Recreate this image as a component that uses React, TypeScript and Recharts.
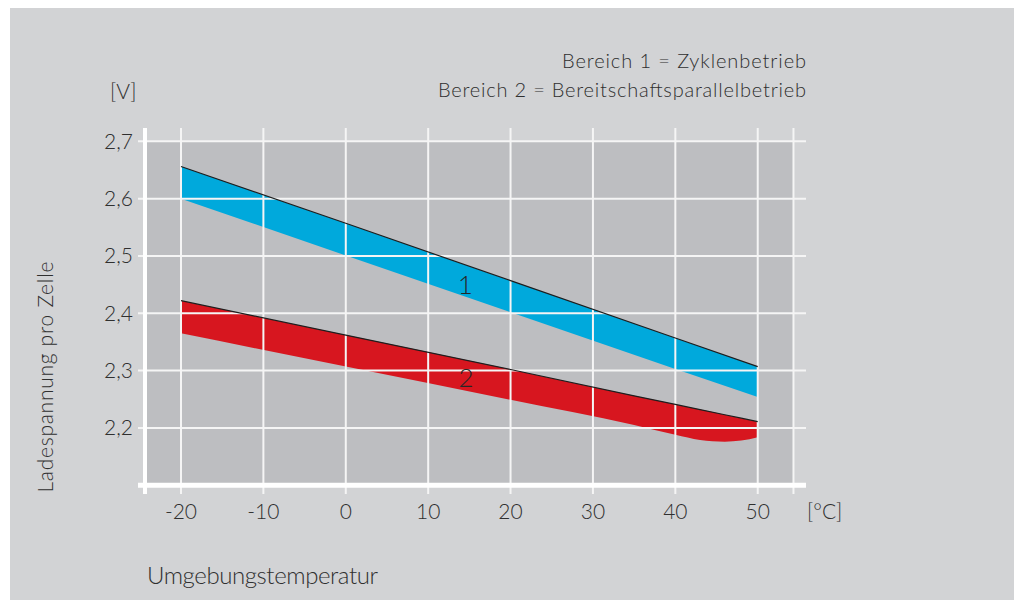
import React from 'react';
import {
  ComposedChart,
  Area,
  Line,
  XAxis,
  YAxis,
  ReferenceArea,
  ReferenceLine,
  ReferenceDot,
} from 'recharts';

// Temperature ticks (°C) and voltage ticks (V)
const xTicks = [-20, -10, 0, 10, 20, 30, 40, 50];
const yTicks = [2.2, 2.3, 2.4, 2.5, 2.6, 2.7];

// Bereich 1 (Zyklenbetrieb) – [lower, upper]
const blueTemps = [-20, 0, 20, 40, 50];
const blueLow = [2.6, 2.501, 2.402, 2.303, 2.254];
const blueHigh = [2.656, 2.557, 2.457, 2.357, 2.307];

// Bereich 2 (Bereitschaftsparallelbetrieb) – [lower, upper]
const redTemps = [-20, 0, 20, 35, 40, 43, 46, 48, 50];
const redLow = [2.365, 2.307, 2.249, 2.205, 2.188, 2.179, 2.176, 2.178, 2.184];
const redHigh = [2.422, 2.362, 2.302, 2.256, 2.241, 2.232, 2.223, 2.217, 2.211];

// band labels
const bandLabels = [
  { t: 14.5, v: 2.449, text: '1' },
  { t: 14.6, v: 2.288, text: '2' },
];

// frame of the grey plot field
const frameX = [-24.37, 54.34];
const frameY = [2.1, 2.7];

const blueData = blueTemps.map((t, i) => ({ t, range: [blueLow[i], blueHigh[i]], top: blueHigh[i] }));
const redData = redTemps.map((t, i) => ({ t, range: [redLow[i], redHigh[i]], top: redHigh[i] }));

const FONT = 'Lato, "Open Sans", sans-serif';
const TEXT = '#2f2f2f';

const fmtV = (v: number) => v.toFixed(1).replace('.', ',');

export default function App() {
  const tickStyle = { fill: TEXT, fontSize: 21, fontFamily: FONT, fontWeight: 300 };
  return (
    <div style={{ position: 'absolute', left: 0, top: 0, width: 1016, height: 600, background: '#fff' }}>
      <div style={{ position: 'absolute', left: 10, top: 8, width: 1004, height: 592, background: '#d2d3d5' }} />
      <div style={{ position: 'absolute', left: 0, top: 0 }}>
        <ComposedChart width={1016} height={600} margin={{ top: 128, right: 210, bottom: 76, left: 0 }}>
          <XAxis
            type="number"
            dataKey="t"
            domain={[-25.22, 55.86]}
            allowDataOverflow
            ticks={xTicks}
            axisLine={false}
            tickLine={false}
            tickSize={0}
            tickMargin={10}
            height={30}
            tick={tickStyle}
            interval={0}
          />
          <YAxis
            type="number"
            domain={[2.0848, 2.7232]}
            allowDataOverflow
            ticks={yTicks}
            axisLine={false}
            tickLine={false}
            tickSize={0}
            tickMargin={5}
            width={138}
            tick={tickStyle}
            tickFormatter={fmtV}
            interval={0}
          />
          <ReferenceArea
            x1={frameX[0]}
            x2={frameX[1]}
            y1={frameY[0]}
            y2={frameY[1]}
            fill="#bdbec1"
            fillOpacity={1}
            stroke="none"
          />
          <Area
            data={blueData}
            dataKey="range"
            type="linear"
            fill="#00a9dc"
            fillOpacity={1}
            stroke="none"
            isAnimationActive={false}
          />
          <Area
            data={redData}
            dataKey="range"
            type="monotone"
            fill="#d7161f"
            fillOpacity={1}
            stroke="none"
            isAnimationActive={false}
          />
          {yTicks.map((v) => (
            <ReferenceLine key={'h' + v} y={v} stroke="#f5f5f5" strokeWidth={2} />
          ))}
          {[...xTicks, frameX[1]].map((t) => (
            <ReferenceLine key={'v' + t} x={t} stroke="#f5f5f5" strokeWidth={2} />
          ))}
          <Line
            data={blueData}
            dataKey="top"
            type="linear"
            stroke="#1e1e1e"
            strokeWidth={1.2}
            dot={false}
            isAnimationActive={false}
          />
          <Line
            data={redData}
            dataKey="top"
            type="linear"
            stroke="#1e1e1e"
            strokeWidth={1.2}
            dot={false}
            isAnimationActive={false}
          />
          <ReferenceLine y={frameY[0]} stroke="#ffffff" strokeWidth={5} />
          <ReferenceLine x={frameX[0]} stroke="#ffffff" strokeWidth={4} />
          {bandLabels.map((l) => (
            <ReferenceDot
              key={l.text}
              x={l.t}
              y={l.v}
              r={0}
              fill="none"
              stroke="none"
              label={{ value: l.text, position: 'center', fill: '#262626', fontSize: 26, fontFamily: FONT, fontWeight: 300 }}
            />
          ))}
        </ComposedChart>
      </div>
      <svg
        width={1016}
        height={600}
        style={{ position: 'absolute', left: 0, top: 0, pointerEvents: 'none' }}
        fontFamily={FONT}
        fontWeight={300}
        fill={TEXT}
      >
        <text x={806} y={68} fontSize={20} textAnchor="end" textLength={244}>
          Bereich 1 = Zyklenbetrieb
        </text>
        <text x={806} y={97} fontSize={20} textAnchor="end" textLength={368}>
          Bereich 2 = Bereitschaftsparallelbetrieb
        </text>
        <text x={110} y={99} fontSize={21}>
          [V]
        </text>
        <text x={807} y={519} fontSize={21}>
          [°C]
        </text>
        <text x={147} y={584} fontSize={24} textLength={231}>
          Umgebungstemperatur
        </text>
        <text x={53} y={377} fontSize={21} textAnchor="middle" textLength={231} transform="rotate(-90 53 377)">
          Ladespannung pro Zelle
        </text>
      </svg>
    </div>
  );
}
